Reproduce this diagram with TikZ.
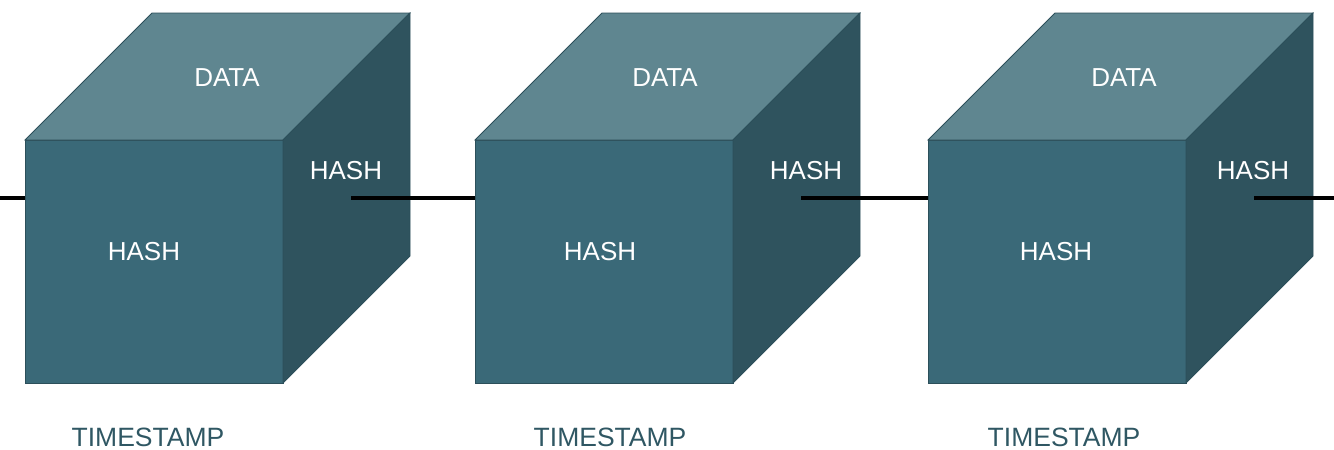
\documentclass[tikz,border=0pt]{standalone}
\usepackage{xcolor}
\usepackage{fontspec}
\setmainfont{Liberation Sans}
\usepackage{tikz}
\usetikzlibrary{calc}

\definecolor{frontc}{HTML}{3A6978}
\definecolor{topc}{HTML}{5F8690}
\definecolor{sidec}{HTML}{2F535E}
\definecolor{edgec}{HTML}{2C4F5A}
\definecolor{stampc}{HTML}{2F5763}

\tikzset{
	face/.style={draw=edgec,line width=0.8pt},
	lbl/.style={text=white,font=\fontsize{26}{26}\selectfont,inner sep=0pt},
	stamp/.style={text=stampc,font=\fontsize{26.5}{26}\selectfont,inner sep=0pt},
	chain/.style={black,line width=3.5pt}
}

\begin{document}
\begin{tikzpicture}[x=1pt,y=-1pt]
		\def\w{258}
		\def\h{243}
		\def\d{127}
		\useasboundingbox (0,0) rectangle (1334,450);
		% the three blocks
		\foreach \i/\x/\dx/\fx/\sx/\tx in {1/25/227/144/346/148,2/475/665/600/806/610,3/928/1124/1056/1253/1064} {
			\fill[frontc,face] (\x,140) rectangle ++(\w,\h);
			\fill[topc,face] (\x,140) -- ++(\d,-\d) -- ++(\w,0) -- ++(-\d,\d) -- cycle;
			\fill[sidec,face] (\x+\w,140) -- ++(\d,-\d) -- ++(0,\h) -- ++(-\d,\d) -- cycle;
			\node[lbl] (data\i) at (\dx,78) {DATA};
			\node[lbl] (fhash\i) at (\fx,252) {HASH};
			\node[lbl] (shash\i) at (\sx,171) {HASH};
			\node[stamp] (time\i) at (\tx,437) {TIMESTAMP};
			\coordinate (in\i) at (\x,198);
			\coordinate (out\i) at (\x+326,198);
		}
		\coordinate (start) at (0,198);
		\coordinate (end) at (1334,198);
		% links
		\draw[chain] (start) -- (in1);
		\draw[chain] (out1) -- (in2);
		\draw[chain] (out2) -- (in3);
		\draw[chain] (out3) -- (end);
	\end{tikzpicture}
\end{document}
